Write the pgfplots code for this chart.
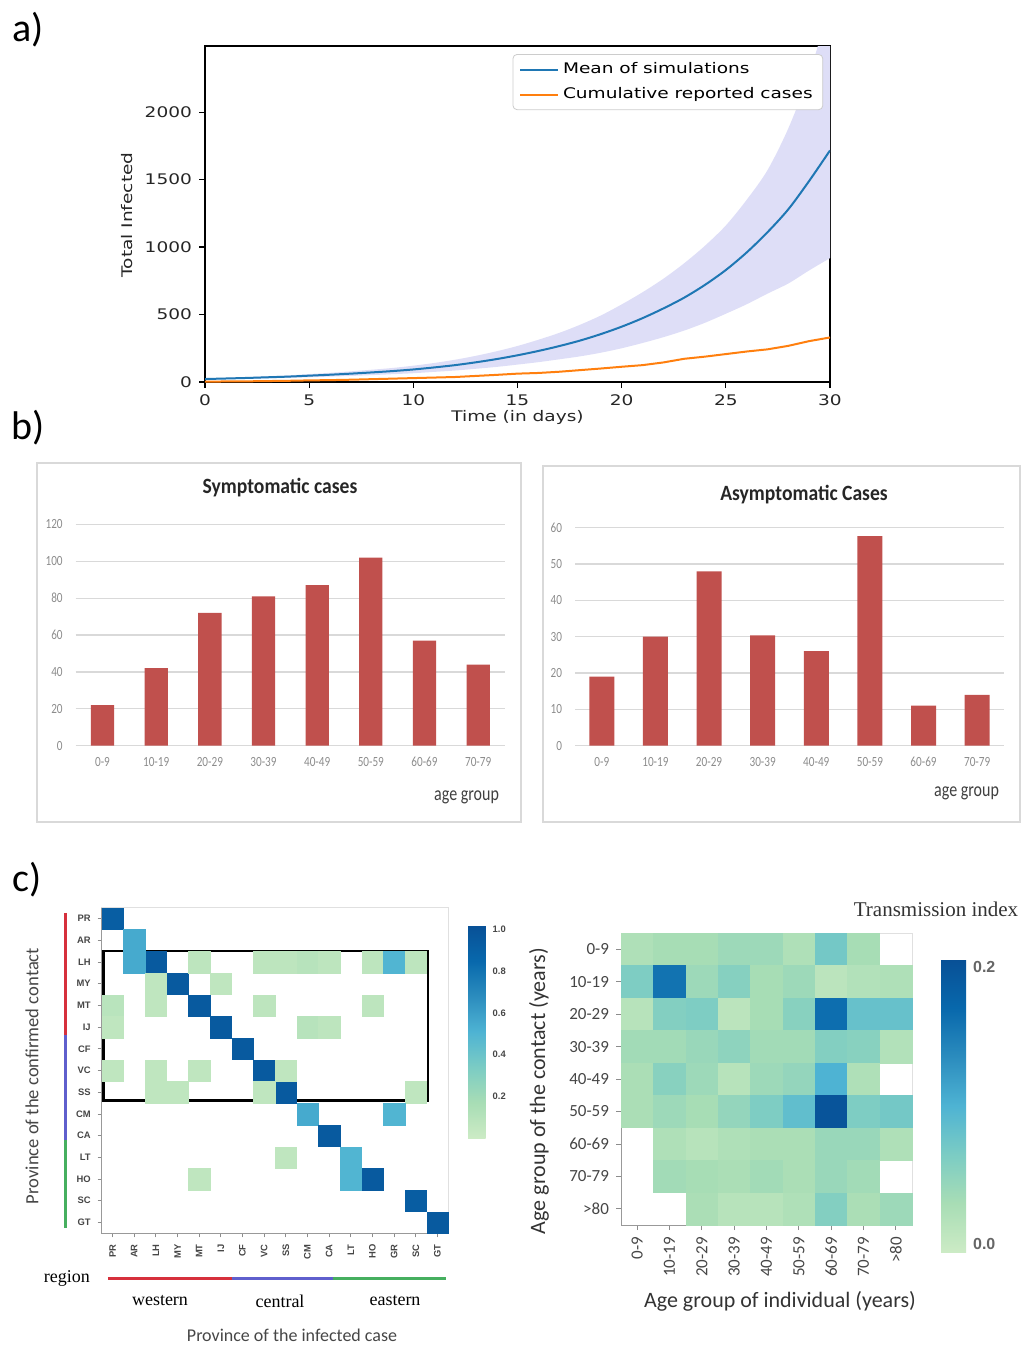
\documentclass[border=0pt]{standalone}
\usepackage{fontspec}
\usepackage{pgfplots}
\pgfplotsset{compat=1.18}
\usepgfplotslibrary{fillbetween}
\setmainfont{Carlito}
\newfontfamily\dvs[FakeStretch=1.27]{DejaVu Sans}
\newfontfamily\narrow[FakeStretch=0.8]{Carlito}
\newfontfamily\narrowb[FakeStretch=0.9]{Carlito}
\newfontfamily\lserif{Liberation Serif}
\newfontfamily\lsans{Liberation Sans}
\newcommand{\fs}[1]{\fontsize{#1}{#1}\selectfont}

\definecolor{mplblue}{RGB}{31,119,180}
\definecolor{mplorange}{RGB}{255,127,14}
\definecolor{band}{RGB}{222,222,247}
\definecolor{barred}{RGB}{192,80,77}
\definecolor{gridgray}{RGB}{217,217,217}
\definecolor{regred}{RGB}{214,48,60}
\definecolor{regblue}{RGB}{95,95,205}
\definecolor{reggreen}{RGB}{70,175,95}
\definecolor{lblgray}{RGB}{70,70,70}

\pgfplotsset{
  /pgf/number format/assume math mode=true,
  colormap={gnbu}{rgb255=(204,235,197) rgb255=(168,221,181) rgb255=(123,204,196)
    rgb255=(78,179,211) rgb255=(43,140,190) rgb255=(8,104,172) rgb255=(8,80,150)},
}

% panel a: simulated vs reported
\pgfplotstableread{
t mean lo up rep
0 22 18 26 3
1 26 21 31 4
2 30 24 36 5
3 35 27 43 7
4 40 31 49 9
5 47 35 59 12
6 54 40 68 14
7 62 45 79 17
8 71 51 91 21
9 81 58 104 25
10 93 65 121 29
11 108 75 141 33
12 125 85 165 37
13 146 98 194 45
14 170 112 228 53
15 198 129 267 62
16 230 147 313 67
17 266 168 364 76
18 307 190 424 88
19 355 217 493 100
20 410 250 575 113
21 473 289 665 125
22 545 332 765 145
23 625 381 880 172
24 720 439 1010 188
25 830 506 1160 207
26 960 576 1350 226
27 1110 655 1570 242
28 1280 730 1880 268
29 1490 827 2280 303
30 1716 918 2800 330
}\simdata

% panel c left: province matrix (col, 14-row, value)
\pgfplotstableread{
c r v
0 14 0.92
1 13 0.55
2 12 0.95
3 11 0.95
4 10 0.95
5 9 0.95
6 8 0.95
7 7 0.95
8 6 0.95
9 5 0.55
10 4 0.95
11 3 0.50
12 2 0.95
14 1 0.93
15 0 0.95
1 12 0.55
4 12 0.07
7 12 0.07
8 12 0.07
9 12 0.10
10 12 0.07
12 12 0.07
13 12 0.50
14 12 0.07
2 11 0.06
5 11 0.06
0 10 0.09
2 10 0.06
7 10 0.07
12 10 0.07
0 9 0.06
9 9 0.10
10 9 0.07
0 7 0.06
2 7 0.06
4 7 0.06
8 7 0.06
2 6 0.06
3 6 0.06
7 6 0.06
14 6 0.06
13 5 0.50
8 3 0.06
4 2 0.06
11 2 0.50
}\provdata

% panel c right: age matrix (col, 8-row, value)
\pgfplotstableread{
c r v
0 8 0.022
1 8 0.03
2 8 0.03
3 8 0.038
4 8 0.038
5 8 0.022
6 8 0.07
7 8 0.03
0 7 0.062
1 7 0.16
2 7 0.038
3 7 0.056
4 7 0.03
5 7 0.038
6 7 0.011
7 7 0.019
8 7 0.022
0 6 0.015
1 6 0.058
2 6 0.062
3 6 0.011
4 6 0.03
5 6 0.054
6 6 0.165
7 6 0.08
8 6 0.08
0 5 0.034
1 5 0.034
2 5 0.041
3 5 0.05
4 5 0.034
5 5 0.034
6 5 0.058
7 5 0.054
8 5 0.019
0 4 0.026
1 4 0.054
2 4 0.038
3 4 0.015
4 4 0.038
5 4 0.045
6 4 0.10
7 4 0.022
0 3 0.026
1 3 0.038
2 3 0.03
3 3 0.045
4 3 0.062
5 3 0.085
6 3 0.20
7 3 0.062
8 3 0.07
1 2 0.022
2 2 0.015
3 2 0.022
4 2 0.026
5 2 0.026
6 2 0.041
7 2 0.041
8 2 0.022
1 1 0.034
2 1 0.03
3 1 0.026
4 1 0.034
5 1 0.026
6 1 0.041
7 1 0.034
2 0 0.026
3 0 0.015
4 0 0.015
5 0 0.022
6 0 0.058
7 0 0.026
8 0 0.038
}\agedata

\begin{document}
\begin{tikzpicture}
\begin{scope}[x=0.5pt,y=-0.5pt]
\path[use as bounding box] (0,0) rectangle (1026,1345);
\node[font=\fs{20}] at (28,30) {a)};
\node[font=\fs{20}] at (28,428) {b)};
\node[font=\fs{20}] at (27,880) {c)};
% frames of panel b
\draw[gridgray, line width=0.7pt] (37,463) rectangle (521,822);
\draw[gridgray, line width=0.7pt] (543,466) rectangle (1020,822);
\node[font=\narrowb\bfseries\fs{10.9}, text=black!85] at (280,488) {Symptomatic cases};
\node[font=\narrowb\bfseries\fs{10.9}, text=black!85] at (804,495) {Asymptomatic Cases};
\node[font=\narrow\fs{10}, text=black!75, anchor=east] at (506,797) {age group};
\node[font=\narrow\fs{10}, text=black!75, anchor=east] at (1006,793) {age group};
% panel c labels
\node[font=\fs{9.3}, text=lblgray, rotate=90] at (32,1076) {Province of the confirmed contact};
\node[font=\lserif\fs{9}, anchor=east] at (97,1278) {region};
\node[font=\lserif\fs{9}] at (160,1301) {western};
\node[font=\lserif\fs{9}] at (280,1301) {central};
\node[font=\lserif\fs{9}] at (395,1301) {eastern};
\node[font=\fs{9}, text=lblgray] at (292,1335) {Province of the infected case};
\node[font=\lserif\fs{10.5}, text=black!80] at (936,909) {Transmission index};
\node[font=\fs{11}, text=black!80, rotate=90] at (539,1091) {Age group of the contact (years)};
\node[font=\fs{11}, text=black!80] at (780,1301) {Age group of individual (years)};
\end{scope}

% ---------- a) ----------
\begin{axis}[
  at={(102.5pt,-191pt)}, anchor=south west, scale only axis,
  width=312.5pt, height=168pt,
  xmin=0, xmax=30, ymin=0, ymax=2490,
  xtick={0,5,...,30}, ytick={0,500,1000,1500,2000},
  tick pos=left, tick align=outside, major tick length=3pt,
  every tick/.style={black, line width=0.6pt},
  axis line style={line width=0.7pt},
  ticklabel style={font=\dvs\fs{7.3}, text=black!85},
  /pgf/number format/1000 sep={},
  scaled y ticks=false,
  xlabel={Time (in days)}, ylabel={Total Infected},
  label style={font=\dvs\fs{7.3}, text=black!85},
  xlabel style={at={(axis description cs:0.5,-0.107)}, anchor=center},
  ylabel style={at={(axis description cs:-0.125,0.497)}, anchor=center},
  legend style={at={(0.989,0.976)}, anchor=north east,
    draw={rgb,255:red,204;green,204;blue,204}, rounded corners=2pt,
    font=\dvs\fs{7.3}, inner xsep=3pt, inner ysep=2pt, row sep=1.5pt,
    cells={anchor=west}},
  legend image code/.code={\draw[#1, line width=1pt] (0pt,0pt) -- (19pt,0pt);},
]
\addplot[name path=up, draw=none, forget plot, smooth] table[x=t, y=up] {\simdata};
\addplot[name path=lo, draw=none, forget plot, smooth] table[x=t, y=lo] {\simdata};
\addplot[fill=band, draw=none, forget plot] fill between[of=up and lo];
\addplot[mplblue, line width=1pt, smooth] table[x=t, y=mean] {\simdata};
\addlegendentry{Mean of simulations}
\addplot[mplorange, line width=1pt] table[x=t, y=rep] {\simdata};
\addlegendentry{Cumulative reported cases}
\end{axis}

% ---------- b) left ----------
\begin{axis}[
  at={(37.85pt,-372.85pt)}, anchor=south west, scale only axis,
  width=214.65pt, height=110.7pt,
  xmin=-0.5, xmax=7.5, ymin=0, ymax=120,
  ytick={0,20,...,120}, xtick={0,...,7},
  xticklabels={0-9,10-19,20-29,30-39,40-49,50-59,60-69,70-79},
  axis line style={draw=none}, major tick length=0pt,
  ymajorgrids, grid style={gridgray, line width=0.6pt},
  ticklabel style={font=\narrow\fs{7}, text=black!45},
  xticklabel style={anchor=center, yshift=-8pt},
  yticklabel style={xshift=-3pt},
]
\addplot[ybar, bar width=11.65pt, fill=barred, draw=none]
  coordinates {(0,22) (1,42) (2,72) (3,81) (4,87) (5,102) (6,57) (7,44)};
\end{axis}

% ---------- b) right ----------
\begin{axis}[
  at={(287.5pt,-372.85pt)}, anchor=south west, scale only axis,
  width=214.5pt, height=109pt,
  xmin=-0.5, xmax=7.5, ymin=0, ymax=60,
  ytick={0,10,...,60}, xtick={0,...,7},
  xticklabels={0-9,10-19,20-29,30-39,40-49,50-59,60-69,70-79},
  axis line style={draw=none}, major tick length=0pt,
  ymajorgrids, grid style={gridgray, line width=0.6pt},
  ticklabel style={font=\narrow\fs{7}, text=black!45},
  xticklabel style={anchor=center, yshift=-8pt},
  yticklabel style={xshift=-3pt},
]
\addplot[ybar, bar width=12.5pt, fill=barred, draw=none]
  coordinates {(0,19) (1,30) (2,48) (3,30.4) (4,26) (5,57.7) (6,11) (7,14)};
\end{axis}

% ---------- c) left ----------
\begin{axis}[
  at={(50.85pt,-616.65pt)}, anchor=south west, scale only axis,
  width=173.3pt, height=162.8pt,
  xmin=-0.5, xmax=15.5, ymin=-0.5, ymax=14.5,
  xtick={0,...,15}, ytick={0,...,14},
  xticklabels={PR,AR,LH,MY,MT,IJ,CF,VC,SS,CM,CA,LT,HO,GR,SC,GT},
  yticklabels={GT,SC,HO,LT,CA,CM,SS,VC,CF,IJ,MT,MY,LH,AR,PR},
  tick pos=left, tick align=outside, major tick length=2pt,
  tick style={black!45, line width=0.4pt},
  ticklabel style={font=\lsans\bfseries\fs{4.7}, text=lblgray},
  xticklabel style={rotate=90, anchor=east},
  axis line style={draw=black!12},
  clip=false,
  colormap name=gnbu, point meta min=0, point meta max=1.02,
  colorbar,
  colorbar style={at={(parent axis.north east)}, anchor=north west,
    xshift=1.35pt, yshift=-8.65pt, scale only axis, width=8.8pt, height=106.6pt,
    ytick={0.2,0.4,0.6,0.8,1.0}, major tick length=0pt,
    axis line style={draw=none},
    yticklabel style={font=\lsans\bfseries\fs{4.7}, text=lblgray,
      /pgf/number format/.cd, fixed, fixed zerofill, precision=1}},
]
\addplot[scatter, only marks, mark=square*, mark size=5.37pt,
  point meta=explicit,
  mark options={line width=0.1pt},
  scatter/use mapped color={draw=mapped color, fill=mapped color}]
  table[x=c, y=r, meta=v] {\provdata};
\draw[black!40, line width=0.5pt] (axis cs:-0.5,14.5) -- (axis cs:-0.5,-0.5) -- (axis cs:15.5,-0.5);
\draw[black, line width=1.3pt] (axis cs:-0.41,12.5) rectangle (axis cs:14.56,5.63);
\draw[regred, line width=1.5pt] (axis cs:-2.15,14.26) -- (axis cs:-2.15,8.63);
\draw[regblue, line width=1.5pt] (axis cs:-2.15,8.63) -- (axis cs:-2.15,3.8);
\draw[reggreen, line width=1.5pt] (axis cs:-2.15,3.8) -- (axis cs:-2.15,-0.26);
\draw[regred, line width=1.5pt] (axis cs:-0.21,-2.56) -- (axis cs:5.52,-2.56);
\draw[regblue, line width=1.5pt] (axis cs:5.52,-2.56) -- (axis cs:10.18,-2.56);
\draw[reggreen, line width=1.5pt] (axis cs:10.18,-2.56) -- (axis cs:15.39,-2.56);
\end{axis}

% ---------- c) right ----------
\begin{axis}[
  at={(310.5pt,-612.5pt)}, anchor=south west, scale only axis,
  width=145.5pt, height=146pt,
  xmin=-0.5, xmax=8.5, ymin=-0.5, ymax=8.5,
  xtick={0,...,8}, ytick={0,...,8},
  xticklabels={0-9,10-19,20-29,30-39,40-49,50-59,60-69,70-79,>80},
  yticklabels={>80,70-79,60-69,50-59,40-49,30-39,20-29,10-19,0-9},
  tick pos=left, tick align=outside, major tick length=2.5pt,
  tick style={black!45, line width=0.4pt},
  ticklabel style={font=\fs{8.5}, text=lblgray},
  xticklabel style={rotate=90, anchor=east},
  axis line style={draw=black!12},
  colormap name=gnbu, point meta min=-0.006, point meta max=0.2056,
  colorbar,
  colorbar style={at={(parent axis.north east)}, anchor=north west,
    xshift=6pt, yshift=-13pt, scale only axis, width=12.5pt, height=146.5pt,
    ytick={0,0.2}, major tick length=0pt,
    axis line style={draw=none},
    yticklabel style={font=\lsans\bfseries\fs{8}, text=black!60,
      /pgf/number format/.cd, fixed, fixed zerofill, precision=1}},
]
\addplot[scatter, only marks, mark=square*, mark size=8.05pt,
  point meta=explicit,
  mark options={line width=0.1pt},
  scatter/use mapped color={draw=mapped color, fill=mapped color}]
  table[x=c, y=r, meta=v] {\agedata};
\draw[black!40, line width=0.5pt] (axis cs:-0.5,8.5) -- (axis cs:-0.5,-0.5) -- (axis cs:8.5,-0.5);
\end{axis}
\end{tikzpicture}
\end{document}
